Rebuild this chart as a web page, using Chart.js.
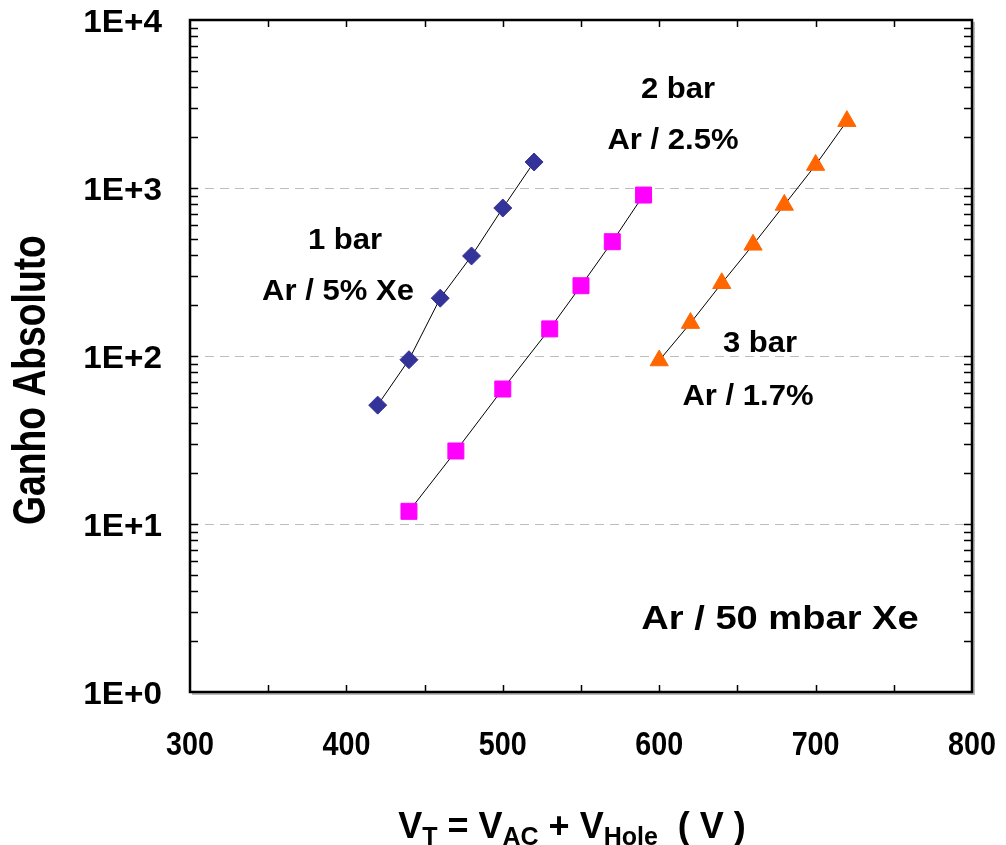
<!DOCTYPE html>
<html>
<head>
<meta charset="utf-8">
<script src="https://cdn.jsdelivr.net/npm/chart.js@4.4.0/dist/chart.umd.min.js"></script>
<style>
  html, body { margin: 0; padding: 0; background: #fff; }
  #wrap { width: 1006px; height: 845px; }
</style>
</head>
<body>
<div id="wrap"><canvas id="c"></canvas></div>
<script>
    // ---------------------------
    // Data
    // ---------------------------
    const xTicks = [300, 400, 500, 600, 700, 800];
    const yTicks = [1, 10, 100, 1000, 10000];
    const yTickLabels = ["1E+0", "1E+1", "1E+2", "1E+3", "1E+4"];

    const volts1bar = [420, 440, 460, 480, 500, 520];
    const gain1bar  = [51, 95, 221, 394, 760, 1428];

    const volts2bar = [440, 470, 500, 530, 550, 570, 590];
    const gain2bar  = [11.9, 27.2, 63.6, 145, 262, 479, 908];

    const volts3bar = [600, 620, 640, 660, 680, 700, 720];
    const gain3bar  = [94, 157, 271, 459, 793, 1370, 2500];

    const notes = [
      { text: "1 bar",           x: 345, y: 239, size: 29, sx: 1.07 },
      { text: "Ar / 5% Xe",      x: 338, y: 290, size: 29, sx: 1.07 },
      { text: "2 bar",           x: 678, y: 88,  size: 29, sx: 1.07 },
      { text: "Ar / 2.5%",       x: 673, y: 139, size: 29, sx: 1.07 },
      { text: "3 bar",           x: 760, y: 342, size: 29, sx: 1.07 },
      { text: "Ar / 1.7%",       x: 748, y: 395, size: 29, sx: 1.07 },
      { text: "Ar / 50 mbar Xe", x: 780, y: 617, size: 34, sx: 1.12 }
    ];

    const FONT = "'Liberation Sans', Arial, sans-serif";

    function toPoints(xs, ys) {
      return xs.map((x, i) => ({ x: x, y: ys[i] }));
    }

    // text with a horizontal stretch (the original uses wide / narrow faces)
    function stretchText(ctx, text, x, y, sx, align) {
      ctx.save();
      ctx.translate(x, y);
      ctx.scale(sx, 1);
      ctx.textAlign = align;
      ctx.fillText(text, 0, 0);
      ctx.restore();
    }

    // ---------------------------
    // Frame, inward ticks, labels, titles, notes
    // ---------------------------
    const decorPlugin = {
      id: "decor",
      afterDraw(chart) {
        const ctx = chart.ctx;
        const a = chart.chartArea;
        const xs = chart.scales.x, ys = chart.scales.y;
        ctx.save();

        // inward tick marks
        ctx.strokeStyle = "#000";
        ctx.lineWidth = 1.5;
        ctx.beginPath();
        for (let v = 350; v < 800; v += 50) {
          const px = Math.round(xs.getPixelForValue(v)) + 0.5;
          ctx.moveTo(px, a.bottom); ctx.lineTo(px, a.bottom - 7);
          ctx.moveTo(px, a.top); ctx.lineTo(px, a.top + 7);
        }
        for (let d = 1; d < 10000; d *= 10) {
          for (let m = 1; m < 10; m++) {
            const v = d * m;
            if (v === 1) continue;
            const py = Math.round(ys.getPixelForValue(v)) + 0.5;
            ctx.moveTo(a.left, py); ctx.lineTo(a.left + 8, py);
            ctx.moveTo(a.right, py); ctx.lineTo(a.right - 8, py);
          }
        }
        ctx.stroke();

        // frame with soft shadow
        ctx.strokeStyle = "#bbb";
        ctx.lineWidth = 2;
        ctx.beginPath();
        ctx.moveTo(a.right + 2, a.top + 2);
        ctx.lineTo(a.right + 2, a.bottom + 2);
        ctx.lineTo(a.left + 2, a.bottom + 2);
        ctx.stroke();
        ctx.strokeStyle = "#000";
        ctx.lineWidth = 2.5;
        ctx.strokeRect(a.left, a.top, a.right - a.left, a.bottom - a.top);

        ctx.fillStyle = "#000";
        ctx.textBaseline = "alphabetic";

        // tick labels
        ctx.font = "bold 32px " + FONT;
        yTicks.forEach((v, i) => {
          stretchText(ctx, yTickLabels[i], 162, ys.getPixelForValue(v) + 11.5, 1.04, "right");
        });
        ctx.font = "bold 33px " + FONT;
        xTicks.forEach(v => {
          stretchText(ctx, String(v), xs.getPixelForValue(v), 755, 0.87, "center");
        });

        // notes
        notes.forEach(n => {
          ctx.font = "bold " + n.size + "px " + FONT;
          stretchText(ctx, n.text, n.x, n.y + n.size * 0.36, n.sx, "center");
        });

        // y title
        ctx.save();
        ctx.translate(45, 380);
        ctx.rotate(-Math.PI / 2);
        ctx.font = "bold 46px " + FONT;
        stretchText(ctx, "Ganho Absoluto", 0, 0, 0.81, "center");
        ctx.restore();

        // x title with subscripts
        const parts = [
          ["V", 0], ["T", 1], [" = V", 0], ["AC", 1], [" + V", 0], ["Hole", 1], ["  ( V )", 0]
        ];
        const big = "bold 36px " + FONT, small = "bold 25px " + FONT;
        let total = 0;
        parts.forEach(p => { ctx.font = p[1] ? small : big; total += ctx.measureText(p[0]).width; });
        let cx = 572 - total / 2;
        ctx.textAlign = "left";
        parts.forEach(p => {
          ctx.font = p[1] ? small : big;
          ctx.fillText(p[0], cx, p[1] ? 845 : 838);
          cx += ctx.measureText(p[0]).width;
        });

        ctx.restore();
      }
    };

    new Chart(document.getElementById("c"), {
      type: "scatter",
      data: {
        datasets: [
          {
            label: "1 bar", data: toPoints(volts1bar, gain1bar), showLine: true,
            borderColor: "#000", borderWidth: 1, pointStyle: "rectRot", pointRadius: 9,
            pointBackgroundColor: "#333399", pointBorderColor: "#333399", pointBorderWidth: 1
          },
          {
            label: "2 bar", data: toPoints(volts2bar, gain2bar), showLine: true,
            borderColor: "#000", borderWidth: 1, pointStyle: "rect", pointRadius: 11.3,
            pointBackgroundColor: "#ff00ff", pointBorderColor: "#ff00ff", pointBorderWidth: 1
          },
          {
            label: "3 bar", data: toPoints(volts3bar, gain3bar), showLine: true,
            borderColor: "#000", borderWidth: 1, pointStyle: "triangle", pointRadius: 10.5,
            pointBackgroundColor: "#ff6600", pointBorderColor: "#ff6600", pointBorderWidth: 1
          }
        ]
      },
      options: {
        responsive: true,
        maintainAspectRatio: false,
        animation: false,
        layout: { padding: { top: 20, right: 34, left: 0, bottom: 0 } },
        plugins: { legend: { display: false }, tooltip: { enabled: false } },
        scales: {
          x: {
            type: "linear", min: 300, max: 800,
            afterFit: s => { s.height = 153; },
            afterBuildTicks: s => { s.ticks = xTicks.map(v => ({ value: v })); },
            grid: { display: false, drawTicks: false },
            border: { display: false },
            ticks: { display: false }
          },
          y: {
            type: "logarithmic", min: 1, max: 10000,
            afterFit: s => { s.width = 190; },
            afterBuildTicks: s => { s.ticks = yTicks.map(v => ({ value: v })); },
            grid: {
              drawTicks: false,
              color: c => (c.tick && c.tick.value > 1 && c.tick.value < 10000) ? "#bdbdbd" : "rgba(0,0,0,0)",
              lineWidth: 1
            },
            border: { display: false, dash: [9, 6] },
            ticks: { display: false }
          }
        }
      },
      plugins: [decorPlugin]
    });
</script>
</body>
</html>
